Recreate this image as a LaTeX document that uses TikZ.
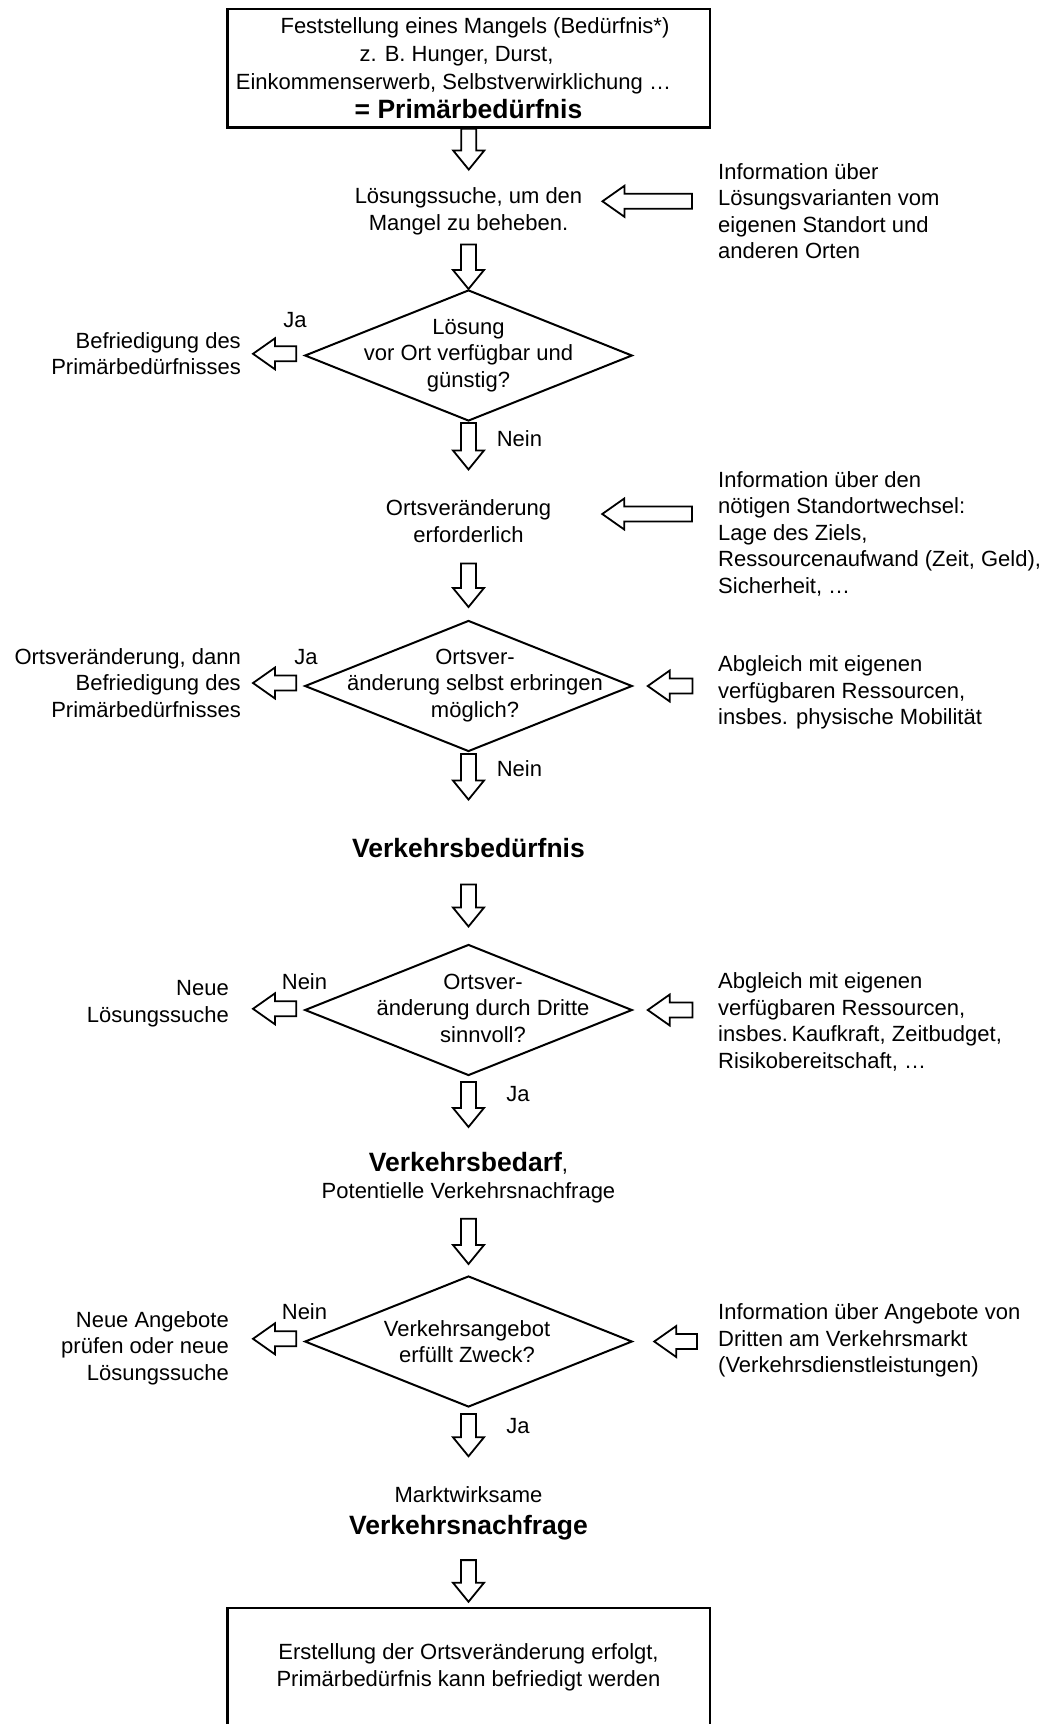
\documentclass[tikz,border=0pt]{standalone}
\usepackage{fontspec}
\setmainfont{Liberation Sans}
\usepackage{tikz}
\usetikzlibrary{calc}
\usetikzlibrary{shapes.geometric}

\newcommand{\normtxt}{\fontsize{22}{26.5}\selectfont}
\newcommand{\fett}{\fontsize{26.5}{30}\selectfont\bfseries}

\tikzset{
    txt/.style={align=center, inner sep=0pt, font=\normtxt},
    rechts/.style={align=left, anchor=west, inner sep=0pt, font=\normtxt},
    seite/.style={align=right, anchor=east, inner sep=0pt, font=\normtxt},
    kasten/.style={draw, rectangle, line width=2.5pt, minimum width=482.5pt, minimum height=118.5pt, inner sep=0pt},
    raute/.style={draw, diamond, line width=2pt, minimum width=327.5pt, minimum height=131pt, inner sep=0pt},
    pfeil/.style={draw, fill=white, line width=1.8pt, line join=miter},
    runter/.style={to path={let \p1=(\tikztostart), \p2=(\tikztotarget) in
        (\x1-7.5pt,\y1) -- (\x1-7.5pt,\y2+19pt) -- (\x1-15.5pt,\y2+19pt) -- (\x1,\y2)
        -- (\x1+15.5pt,\y2+19pt) -- (\x1+7.5pt,\y2+19pt) -- (\x1+7.5pt,\y1) -- cycle}},
    links/.style={to path={let \p1=(\tikztostart), \p2=(\tikztotarget) in
        (\x1,\y2+7.5pt) -- (\x2+22pt,\y2+7.5pt) -- (\x2+22pt,\y2+15.5pt) -- (\x2,\y2)
        -- (\x2+22pt,\y2-15.5pt) -- (\x2+22pt,\y2-7.5pt) -- (\x1,\y2-7.5pt) -- cycle}},
}

\begin{document}
\begin{tikzpicture}[x=1pt, y=-1pt]
    \useasboundingbox (0,0) rectangle (1053,1724);
    \clip (0,0) rectangle (1053,1724);

    % kasten oben
    \node[kasten] (oben) at (468.75,68.25) {};
    \node[txt] (obent) at (468.5,68.5) {\kern13pt Feststellung eines Mangels (Bedürfnis*)\\[1.2pt]z. B. Hunger, Durst,\kern24pt\\[1.2pt]Einkommenserwerb, Selbstverwirklichung …\kern30pt\\[3pt]{\fett = Primärbedürfnis}};

    % loesungssuche
    \node[txt] (loes) at (468.5,211.3) {Lösungssuche, um den\\Mangel zu beheben.};
    \node[rechts] (info1) at (718,211) {Information über\\Lösungsvarianten vom\\eigenen Standort und\\anderen Orten};
    \draw[pfeil] (oben.south) to[runter] ([yshift=18pt]loes.north);
    \draw[pfeil] ([xshift=-26pt]info1.west) to[links] ([xshift=20pt,yshift=10pt]loes.east);

    % raute 1
    \node[raute] (d1) at (468.5,355.5) {};
    \node[txt] (d1t) at (d1) {Lösung\\vor Ort verfügbar und\\günstig?};
    \node[txt] (ja1) at (295,320) {Ja};
    \node[seite] (bef1) at (241,353.8) {Befriedigung des\\Primärbedürfnisses};
    \draw[pfeil] ([yshift=-9.5pt]loes.south) to[runter] (d1.north);
    \draw[pfeil] ([xshift=-7.5pt]d1.west) to[links] ([xshift=12pt]bef1.east);

    % ortsveraenderung
    \node[txt] (nein1) at (519.4,439) {Nein};
    \node[txt] (ort) at (468.5,521) {Ortsveränderung\\erforderlich};
    \node[rechts] (info2) at (718,533.5) {Information über den\\nötigen Standortwechsel:\\Lage des Ziels,\\Ressourcenaufwand (Zeit, Geld),\\Sicherheit, …};
    \draw[pfeil] ([yshift=-1pt]d1.south) to[runter] ([yshift=30pt]ort.north);
    \draw[pfeil] ([xshift=-26pt]info2.west) to[links] ([xshift=51pt,yshift=7pt]ort.east);

    % raute 2
    \node[raute] (d2) at (468.5,686) {};
    \node[txt] (d2t) at (475,685.3) {Ortsver-\\änderung selbst erbringen\\möglich?};
    \node[txt] (ja2) at (306,657) {Ja};
    \node[seite] (bef2) at (241,683) {Ortsveränderung, dann\\Befriedigung des\\Primärbedürfnisses};
    \node[rechts] (info3) at (718,692.8) {Abgleich mit eigenen\\verfügbaren Ressourcen,\\insbes. physische Mobilität};
    \draw[pfeil] ([yshift=-21pt]ort.south) to[runter] ([yshift=12.5pt]d2.north);
    \draw[pfeil] ([xshift=-7.5pt]d2.west) to[links] ([xshift=12pt]bef2.east);
    \draw[pfeil] ([xshift=-25.5pt]info3.west) to[links] ([xshift=14.5pt]d2.east);

    % verkehrsbeduerfnis
    \node[txt] (nein2) at (519.4,769) {Nein};
    \node[txt, font=\fett] (vbed) at (468.5,848.5) {Verkehrsbedürfnis};
    \draw[pfeil] ([yshift=-1.5pt]d2.south) to[runter] ([yshift=39pt]vbed.north);

    % raute 3
    \node[raute] (d3) at (468.5,1010) {};
    \node[txt] (d3t) at (483,1008) {Ortsver-\\änderung durch Dritte\\sinnvoll?};
    \node[txt] (nein3) at (304.5,982) {Nein};
    \node[seite] (neu1) at (229,1003.8) {Neue\\Lösungssuche};
    \node[rechts] (info4) at (718,1022) {Abgleich mit eigenen\\verfügbaren Ressourcen,\\insbes.\,Kaufkraft, Zeitbudget,\\Risikobereitschaft, …};
    \draw[pfeil] ([yshift=-26pt]vbed.south) to[runter] ([yshift=17pt]d3.north);
    \draw[pfeil] ([xshift=-7.5pt]d3.west) to[links] ([xshift=24pt,yshift=-5pt]neu1.east);
    \draw[pfeil] ([xshift=-25.5pt]info4.west) to[links] ([xshift=14.5pt]d3.east);

    % verkehrsbedarf
    \node[txt] (ja3) at (518,1094) {Ja};
    \node[txt] (vbedarf) at (468.5,1177.5) {{\fett Verkehrsbedarf},\\Potentielle Verkehrsnachfrage};
    \draw[pfeil] ([yshift=-5.5pt]d3.south) to[runter] ([yshift=25.2pt]vbedarf.north);

    % raute 4
    \node[raute] (d4) at (468.5,1341.5) {};
    \node[txt] (d4t) at (467,1341.5) {Verkehrsangebot\\erfüllt Zweck?};
    \node[txt] (nein4) at (304.5,1312) {Nein};
    \node[seite] (neu2) at (229,1347.8) {Neue Angebote\\prüfen oder neue\\Lösungssuche};
    \node[rechts] (info5) at (718,1340.5) {Information über Angebote von\\Dritten am Verkehrsmarkt\\(Verkehrsdienstleistungen)};
    \draw[pfeil] ([yshift=-16pt]vbedarf.south) to[runter] ([yshift=11pt]d4.north);
    \draw[pfeil] ([xshift=-7.5pt]d4.west) to[links] ([xshift=24pt,yshift=9pt]neu2.east);
    \draw[pfeil] ([xshift=-21pt]info5.west) to[links] ([xshift=21pt]d4.east);

    % verkehrsnachfrage
    \node[txt] (ja4) at (518,1426) {Ja};
    \node[txt] (markt) at (468.5,1513.5) {Marktwirksame\\[5pt]{\fett Verkehrsnachfrage}};
    \draw[pfeil] ([yshift=-6pt]d4.south) to[runter] ([yshift=30.5pt]markt.north);

    % kasten unten
    \node[kasten, minimum height=200pt] (unten) at (468.75,1708) {};
    \node[txt] (untent) at (468.5,1667.5) {Erstellung der Ortsveränderung erfolgt,\\Primärbedürfnis kann befriedigt werden};
    \draw[pfeil] ([yshift=-19.9pt]markt.south) to[runter] ([yshift=5pt]unten.north);
\end{tikzpicture}
\end{document}
